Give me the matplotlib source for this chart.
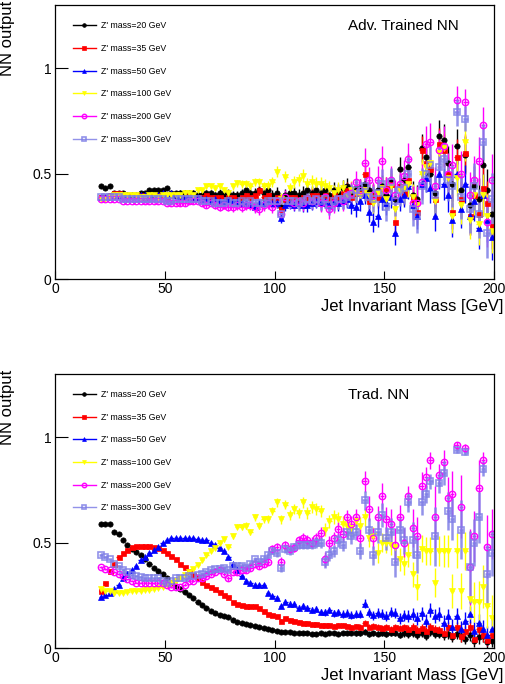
import matplotlib
matplotlib.use("Agg")
import matplotlib.pyplot as plt
from matplotlib.lines import Line2D
import numpy as np

plt.rcParams["font.family"] = ["Liberation Sans", "DejaVu Sans"]

# 2 GeV jet-mass bins from 20 to 200 GeV (bin centres)
MASS_BINS = np.arange(21, 200, 2)
BIN_HALF_WIDTH = 1.0

LABELS = ["Z' mass=20 GeV", "Z' mass=35 GeV", "Z' mass=50 GeV",
          "Z' mass=100 GeV", "Z' mass=200 GeV", "Z' mass=300 GeV"]

# ---- adversarially trained NN: mean output per mass bin ----
ADV_M20 = [
    .44, .43, .44, .41, .41, .41, .40, .40, .40, .41,
    .41, .42, .42, .42, .42, .43, .41, .41, .41, .41,
    .41, .41, .40, .40, .41, .41, .40, .41, .40, .41,
    .40, .40, .41, .42, .41, .41, .42, .41, .42, .40,
    .41, .34, .40, .41, .41, .40, .41, .42, .41, .42,
    .41, .42, .40, .42, .41, .43, .44, .41, .43, .43,
    .45, .42, .40, .42, .44, .40, .46, .38, .52, .47,
    .53, .40, .38, .62, .58, .50, .41, .68, .66, .55,
    .45, .63, .42, .59, .35, .44, .38, .54, .42, .31]
ADV_M35 = [
    .39, .39, .40, .41, .41, .40, .40, .40, .40, .40,
    .39, .40, .40, .40, .40, .39, .40, .40, .39, .39,
    .40, .39, .39, .39, .40, .39, .39, .39, .38, .39,
    .39, .38, .39, .40, .39, .40, .42, .39, .40, .38,
    .39, .33, .38, .39, .39, .38, .39, .39, .40, .40,
    .39, .40, .38, .40, .39, .41, .42, .39, .41, .41,
    .50, .37, .40, .39, .43, .43, .45, .27, .44, .41,
    .47, .38, .32, .61, .55, .52, .38, .64, .61, .50,
    .32, .58, .38, .60, .30, .40, .31, .43, .36, .25]
ADV_M50 = [
    .39, .39, .39, .40, .40, .40, .40, .40, .40, .40,
    .40, .40, .40, .40, .41, .40, .41, .40, .39, .39,
    .40, .39, .39, .38, .38, .37, .38, .37, .37, .38,
    .37, .37, .36, .36, .35, .34, .36, .36, .37, .36,
    .36, .29, .35, .36, .35, .36, .35, .35, .36, .37,
    .36, .37, .35, .37, .36, .37, .38, .35, .34, .37,
    .40, .32, .27, .30, .38, .36, .39, .22, .38, .40,
    .44, .35, .30, .45, .48, .43, .30, .50, .45, .40,
    .28, .50, .33, .45, .30, .37, .24, .40, .28, .20]
ADV_M100 = [
    .38, .38, .39, .40, .40, .40, .40, .40, .40, .39,
    .39, .40, .40, .39, .40, .40, .40, .40, .40, .41,
    .41, .40, .42, .42, .44, .44, .43, .44, .42, .41,
    .44, .455, .45, .45, .44, .46, .46, .44, .44, .46,
    .51, .38, .485, .43, .46, .47, .49, .45, .46, .45,
    .45, .44, .43, .41, .42, .43, .40, .42, .41, .40,
    .42, .40, .36, .41, .43, .38, .44, .33, .42, .43,
    .45, .39, .35, .50, .53, .55, .37, .60, .62, .48,
    .30, .48, .35, .65, .28, .40, .26, .40, .30, .23]
ADV_M200 = [
    .38, .38, .38, .38, .38, .37, .37, .37, .37, .37,
    .37, .37, .37, .37, .37, .36, .36, .36, .36, .36,
    .37, .37, .37, .36, .35, .36, .35, .34, .35, .34,
    .34, .35, .34, .35, .35, .34, .33, .35, .36, .34,
    .37, .31, .39, .37, .36, .37, .36, .38, .37, .38,
    .36, .39, .33, .36, .38, .37, .40, .41, .46, .42,
    .55, .47, .40, .47, .56, .42, .47, .40, .45, .49,
    .57, .36, .36, .46, .64, .65, .44, .61, .63, .50,
    .54, .85, .50, .84, .40, .47, .56, .73, .27, .47]
ADV_M300 = [
    .39, .39, .39, .39, .39, .38, .38, .38, .38, .38,
    .38, .38, .38, .38, .38, .37, .37, .38, .38, .38,
    .38, .38, .38, .37, .37, .37, .36, .36, .36, .37,
    .36, .36, .37, .36, .37, .36, .36, .36, .37, .37,
    .37, .31, .37, .37, .37, .36, .37, .38, .37, .38,
    .37, .38, .35, .37, .38, .38, .39, .40, .42, .41,
    .44, .39, .38, .41, .45, .34, .46, .37, .42, .43,
    .50, .33, .30, .44, .50, .54, .40, .53, .57, .47,
    .44, .79, .39, .76, .33, .44, .31, .65, .22, .38]

# statistical errors (light signals share the low list)
ADV_ERR_LOW = [
    .004, .004, .004, .005, .005, .005, .005, .006, .006, .006,
    .007, .007, .007, .008, .008, .008, .009, .009, .010, .010,
    .010, .011, .012, .012, .013, .013, .014, .015, .015, .016,
    .017, .017, .018, .019, .020, .020, .021, .022, .023, .024,
    .025, .026, .026, .027, .028, .029, .030, .031, .032, .033,
    .035, .035, .036, .038, .039, .040, .041, .043, .044, .045,
    .046, .048, .049, .051, .052, .054, .055, .057, .058, .060,
    .062, .063, .065, .067, .069, .071, .073, .075, .077, .080,
    .082, .084, .087, .090, .092, .095, .098, .100, .104, .108]
ADV_ERR_HIGH = [
    .005, .005, .005, .005, .006, .006, .006, .007, .007, .007,
    .008, .008, .009, .009, .010, .010, .011, .011, .012, .012,
    .013, .013, .014, .015, .015, .016, .017, .018, .018, .019,
    .020, .021, .022, .023, .024, .025, .026, .027, .028, .029,
    .030, .031, .032, .033, .034, .035, .036, .038, .039, .040,
    .042, .043, .044, .046, .047, .049, .050, .052, .054, .055,
    .070, .060, .062, .064, .070, .066, .068, .070, .072, .075,
    .077, .080, .082, .085, .087, .090, .092, .095, .098, .100,
    .100, .065, .105, .060, .110, .112, .115, .085, .120, .125]

# ---- traditional NN ----
TRAD_M20 = [
    .59, .59, .59, .55, .54, .51, .49, .47, .455, .44,
    .42, .40, .38, .365, .35, .33, .31, .295, .28, .265,
    .25, .235, .22, .205, .19, .175, .165, .155, .15, .145,
    .135, .125, .12, .115, .11, .105, .10, .095, .09, .085,
    .08, .075, .078, .074, .072, .070, .072, .070, .068, .068,
    .070, .068, .072, .070, .068, .072, .070, .071, .069, .070,
    .078, .066, .070, .068, .072, .066, .070, .072, .064, .070,
    .066, .070, .062, .072, .058, .075, .066, .068, .060, .066,
    .050, .068, .055, .045, .062, .035, .050, .058, .030, .035]
TRAD_M35 = [
    .27, .31, .365, .40, .43, .45, .465, .48, .485, .485,
    .485, .485, .48, .475, .465, .45, .435, .42, .40, .385,
    .365, .345, .33, .315, .30, .29, .28, .265, .25, .24,
    .22, .21, .205, .20, .20, .20, .19, .175, .16, .155,
    .15, .13, .14, .135, .13, .125, .12, .12, .115, .115,
    .11, .11, .11, .105, .11, .108, .105, .10, .105, .10,
    .12, .10, .105, .10, .095, .10, .09, .10, .095, .10,
    .09, .10, .085, .095, .08, .10, .09, .085, .07, .10,
    .06, .10, .055, .08, .10, .045, .09, .06, .04, .06]
TRAD_M50 = [
    .24, .25, .26, .28, .30, .33, .35, .37, .39, .415,
    .43, .45, .465, .48, .50, .51, .52, .52, .52, .52,
    .52, .52, .515, .51, .51, .50, .49, .475, .46, .43,
    .40, .37, .34, .32, .31, .30, .30, .30, .26, .245,
    .235, .20, .22, .21, .21, .19, .20, .19, .18, .185,
    .17, .17, .18, .165, .17, .16, .165, .155, .16, .16,
    .21, .17, .155, .165, .16, .15, .17, .165, .14, .155,
    .15, .16, .14, .165, .13, .18, .15, .16, .12, .15,
    .10, .15, .09, .13, .16, .08, .12, .09, .06, .09]
TRAD_M100 = [
    .28, .27, .27, .26, .26, .26, .265, .27, .27, .27,
    .275, .275, .28, .285, .29, .30, .31, .32, .33, .345,
    .36, .375, .395, .415, .44, .46, .475, .50, .515, .48,
    .53, .575, .575, .58, .55, .62, .58, .61, .61, .65,
    .69, .61, .68, .63, .66, .64, .69, .64, .67, .66,
    .65, .56, .60, .62, .61, .59, .58, .57, .60, .58,
    .62, .52, .53, .45, .50, .50, .49, .48, .42, .40,
    .44, .35, .29, .47, .46, .46, .31, .46, .46, .46,
    .27, .46, .27, .46, .23, .22, .22, .29, .20, .14]
TRAD_M200 = [
    .385, .375, .37, .36, .35, .34, .325, .32, .31, .31,
    .31, .31, .31, .31, .31, .30, .29, .29, .29, .30,
    .32, .32, .33, .33, .34, .35, .36, .37, .35, .33,
    .36, .36, .37, .37, .38, .40, .39, .40, .41, .47,
    .48, .41, .49, .47, .475, .51, .52, .51, .50, .52,
    .545, .42, .50, .52, .565, .54, .62, .59, .62, .52,
    .79, .66, .52, .62, .72, .61, .59, .49, .62, .50,
    .72, .57, .53, .77, .81, .89, .62, .82, .88, .71,
    .73, .96, .67, .95, .385, .53, .76, .89, .48, .54]
TRAD_M300 = [
    .44, .43, .42, .40, .39, .37, .36, .345, .34, .335,
    .33, .33, .33, .33, .32, .31, .32, .33, .33, .33,
    .34, .34, .345, .35, .36, .37, .375, .375, .38, .37,
    .39, .39, .39, .38, .40, .42, .41, .42, .44, .46,
    .45, .38, .47, .46, .48, .49, .49, .49, .49, .50,
    .50, .41, .44, .46, .51, .49, .55, .53, .55, .46,
    .70, .56, .44, .55, .63, .52, .55, .41, .56, .51,
    .69, .51, .44, .69, .73, .79, .53, .78, .83, .65,
    .61, .94, .56, .93, .385, .50, .62, .85, .35, .45]

TRAD_ERR_M20_35 = [
    .003, .003, .003, .003, .003, .003, .003, .003, .003, .003,
    .003, .003, .003, .003, .003, .003, .003, .003, .003, .003,
    .003, .003, .003, .003, .003, .004, .004, .004, .004, .004,
    .004, .004, .004, .004, .005, .005, .005, .005, .005, .005,
    .006, .006, .006, .006, .007, .007, .007, .007, .008, .008,
    .008, .009, .009, .009, .010, .010, .010, .011, .011, .012,
    .012, .012, .013, .013, .014, .014, .015, .015, .016, .016,
    .017, .017, .018, .018, .019, .020, .020, .021, .022, .022,
    .023, .024, .025, .026, .027, .028, .029, .030, .031, .032]
TRAD_ERR_M50 = [
    .003, .003, .003, .003, .003, .003, .003, .003, .003, .003,
    .004, .004, .004, .004, .004, .004, .004, .004, .004, .004,
    .004, .004, .005, .005, .005, .005, .006, .006, .006, .006,
    .007, .007, .007, .008, .008, .008, .009, .009, .009, .010,
    .010, .011, .011, .012, .012, .013, .013, .014, .014, .015,
    .015, .016, .016, .017, .017, .018, .018, .019, .019, .020,
    .021, .021, .022, .023, .023, .024, .025, .025, .026, .027,
    .028, .028, .029, .030, .031, .032, .033, .034, .035, .036,
    .037, .038, .039, .040, .041, .042, .043, .044, .045, .046]
TRAD_ERR_M100 = [
    .004, .004, .004, .004, .004, .004, .004, .004, .004, .004,
    .004, .005, .005, .005, .005, .005, .005, .006, .006, .006,
    .007, .007, .008, .008, .009, .009, .010, .011, .011, .012,
    .013, .013, .014, .015, .016, .016, .017, .018, .019, .020,
    .021, .022, .022, .023, .024, .025, .026, .027, .028, .029,
    .030, .031, .032, .033, .034, .035, .036, .037, .039, .040,
    .041, .043, .044, .046, .047, .049, .050, .052, .054, .056,
    .058, .060, .062, .064, .066, .068, .070, .072, .075, .078,
    .080, .083, .086, .089, .092, .095, .098, .102, .106, .110]
TRAD_ERR_M200 = [
    .004, .004, .004, .004, .004, .004, .004, .004, .004, .004,
    .004, .004, .005, .005, .005, .005, .005, .005, .006, .006,
    .006, .007, .007, .008, .008, .009, .009, .010, .010, .011,
    .011, .012, .012, .013, .014, .014, .015, .016, .016, .017,
    .018, .020, .019, .020, .021, .022, .023, .024, .025, .026,
    .027, .035, .030, .032, .034, .033, .036, .038, .040, .042,
    .050, .060, .050, .055, .060, .060, .070, .080, .060, .070,
    .050, .090, .090, .065, .050, .040, .150, .050, .060, .100,
    .110, .015, .150, .015, .180, .120, .130, .040, .150, .120]
TRAD_ERR_M300 = [
    .004, .004, .004, .004, .004, .004, .004, .004, .004, .004,
    .004, .004, .004, .005, .005, .005, .005, .005, .005, .006,
    .006, .006, .007, .007, .008, .008, .009, .009, .010, .010,
    .011, .011, .012, .012, .013, .013, .014, .015, .015, .016,
    .017, .018, .018, .019, .020, .021, .022, .022, .023, .024,
    .025, .032, .028, .030, .031, .031, .033, .035, .036, .038,
    .045, .055, .045, .050, .055, .055, .065, .075, .055, .065,
    .045, .085, .085, .060, .045, .035, .140, .045, .055, .090,
    .100, .015, .140, .015, .170, .110, .120, .035, .140, .110]

# ROOT-like marker styles, in legend order
STYLES = [
    dict(color="#000000", marker="o", ms=3.8, mfc="#000000", mew=0.5, elw=1.0, alpha=1.0),
    dict(color="#ff0000", marker="s", ms=3.6, mfc="#ff0000", mew=0.5, elw=1.0, alpha=1.0),
    dict(color="#0000ff", marker="^", ms=4.0, mfc="#0000ff", mew=0.5, elw=1.0, alpha=1.0),
    dict(color="#ffff00", marker="v", ms=4.0, mfc="#ffff00", mew=0.5, elw=1.0, alpha=1.0),
    dict(color="#ff00ff", marker="o", ms=4.6, mfc="none", mew=1.0, elw=1.0, alpha=1.0),
    dict(color="#7f7fe6", marker="s", ms=5.0, mfc="none", mew=1.2, elw=1.8, alpha=0.85),
]


def draw_panel(ax, series, errors, tag):
    for vals, errs, label, st in zip(series, errors, LABELS, STYLES):
        ax.errorbar(MASS_BINS, vals, yerr=errs, xerr=BIN_HALF_WIDTH,
                    fmt=st["marker"], color=st["color"], ms=st["ms"],
                    mfc=st["mfc"], mec=st["color"], mew=st["mew"],
                    elinewidth=st["elw"], capsize=0, alpha=st["alpha"],
                    label=label)

    ax.set_xlim(0, 200)
    ax.set_ylim(0, 1.3)
    ax.set_xticks([0, 50, 100, 150, 200])
    ax.set_yticks([0, 0.5, 1])
    ax.set_yticklabels(["0", "0.5", "1"])
    ax.tick_params(direction="in", top=False, right=False, labelsize=10)
    ax.tick_params(axis="x", length=5.8, pad=2)
    ax.tick_params(axis="y", length=9.4, pad=2.5)
    for sp in ax.spines.values():
        sp.set_linewidth(0.9)

    ax.text(1.0205, -0.1, "Jet Invariant Mass [GeV]", transform=ax.transAxes,
            ha="right", va="center", fontsize=12)
    ax.text(-0.109, 1.015, "NN output", transform=ax.transAxes, rotation=90,
            ha="center", va="top", fontsize=12)
    ax.text(0.667, 0.924, tag, transform=ax.transAxes, ha="left",
            va="center", fontsize=11)

    handles = [Line2D([0], [0], color=st["color"], marker=st["marker"],
                      ms=st["ms"] * 0.7, mfc=st["mfc"], mec=st["color"],
                      mew=st["mew"], lw=1.0, alpha=st["alpha"])
               for st in STYLES]
    ax.legend(handles, LABELS, loc="upper left", bbox_to_anchor=(0.041, 0.94),
              frameon=False, fontsize=6.3, handlelength=2.6,
              handletextpad=0.6, labelspacing=1.56, borderpad=0,
              borderaxespad=0)


fig = plt.figure(figsize=(5.06, 6.84), dpi=100)
ax_top = fig.add_axes([0.1087, 0.5921, 0.8676, 0.4006])
ax_bot = fig.add_axes([0.1087, 0.0526, 0.8676, 0.4010])

draw_panel(ax_top,
           [ADV_M20, ADV_M35, ADV_M50, ADV_M100, ADV_M200, ADV_M300],
           [ADV_ERR_LOW, ADV_ERR_LOW, ADV_ERR_LOW, ADV_ERR_LOW,
            ADV_ERR_HIGH, ADV_ERR_HIGH],
           "Adv. Trained NN")
draw_panel(ax_bot,
           [TRAD_M20, TRAD_M35, TRAD_M50, TRAD_M100, TRAD_M200, TRAD_M300],
           [TRAD_ERR_M20_35, TRAD_ERR_M20_35, TRAD_ERR_M50, TRAD_ERR_M100,
            TRAD_ERR_M200, TRAD_ERR_M300],
           "Trad. NN")

fig.savefig("out.png", dpi=100)
plt.close(fig)
